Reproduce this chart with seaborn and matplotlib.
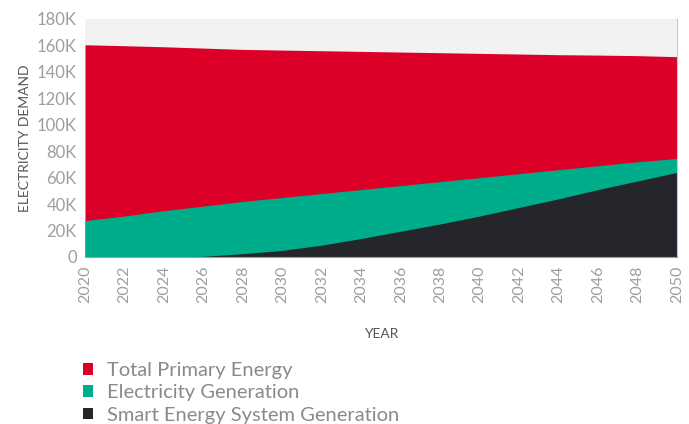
import numpy as np
import pandas as pd
import seaborn as sns
import matplotlib.pyplot as plt
from matplotlib.patches import Patch

years = [2020, 2022, 2024, 2026, 2028, 2030, 2032, 2034, 2036, 2038, 2040, 2042, 2044, 2046, 2048, 2050]
total_primary = [160.5, 159.8, 159.0, 158.0, 157.0, 156.5, 156.0, 155.5, 155.0, 154.5, 154.0, 153.5, 153.0, 152.7, 152.3, 151.5]
electricity_gen = [27.5, 31.0, 35.0, 38.5, 42.0, 45.0, 48.0, 51.0, 54.0, 57.0, 60.0, 63.0, 66.0, 69.0, 72.0, 74.5]
smart_energy = [0.0, 0.0, 0.0, 0.5, 2.5, 5.0, 9.0, 14.0, 19.5, 25.0, 31.0, 37.5, 44.0, 51.0, 57.5, 64.0]
series_names = ["Total Primary Energy", "Electricity Generation", "Smart Energy System Generation"]
colors = ["#dc0029", "#00ad8b", "#25262b"]

df = pd.DataFrame({"year": years,
                   series_names[0]: np.array(total_primary) * 1000,
                   series_names[1]: np.array(electricity_gen) * 1000,
                   series_names[2]: np.array(smart_energy) * 1000})
long = df.melt(id_vars="year", var_name="series", value_name="value")

sns.set_theme(style="white")
plt.rcParams['font.family'] = ['Lato', 'DejaVu Sans']

fig = plt.figure(figsize=(6.89, 4.24), dpi=100)
ax = fig.add_axes([0.1234, 0.3939, 0.8592, 0.5613])
ax.set_facecolor("#f2f2f2")

sns.lineplot(data=long, x="year", y="value", hue="series", palette=colors,
             hue_order=series_names, linewidth=0, legend=False, ax=ax)
for name, c in zip(series_names, colors):
    ax.fill_between(df["year"], 0, df[name], color=c, linewidth=0)

ax.set_xlim(2020, 2050)
ax.set_ylim(0, 180000)
ax.set_xticks(years)
ax.set_xticklabels([str(y) for y in years], rotation=90)
yt = list(range(0, 180001, 20000))
ax.set_yticks(yt)
ax.set_yticklabels(["0" if v == 0 else f"{v // 1000}K" for v in yt])
ax.tick_params(axis="both", colors="#9e9e9e", length=0, pad=6)
ax.tick_params(axis="y", labelsize=12)
ax.tick_params(axis="x", labelsize=11.5)
for s in ax.spines.values():
    s.set_visible(False)
ax.spines["bottom"].set_visible(True)
ax.spines["bottom"].set_color("#9aa0a6")
ax.spines["bottom"].set_linewidth(0.8)
ax.spines["right"].set_visible(True)
ax.spines["right"].set_color("#c8c8c8")
ax.spines["right"].set_linewidth(0.8)

ax.set_xlabel("YEAR", color="#555555", fontsize=10, labelpad=18)
ax.set_ylabel("ELECTRICITY DEMAND", color="#555555", fontsize=10, labelpad=4)

handles = [Patch(facecolor=c, edgecolor="none") for c in colors]
fig.legend(handles, series_names, loc="upper left", bbox_to_anchor=(0.12, 0.146),
           frameon=False, handlelength=0.5, handleheight=0.5,
           handletextpad=0.7, labelspacing=0.26, labelcolor="#8a8a8a",
           borderaxespad=0, borderpad=0, prop={"size": 14.5})

fig.savefig("out.png", dpi=100)
